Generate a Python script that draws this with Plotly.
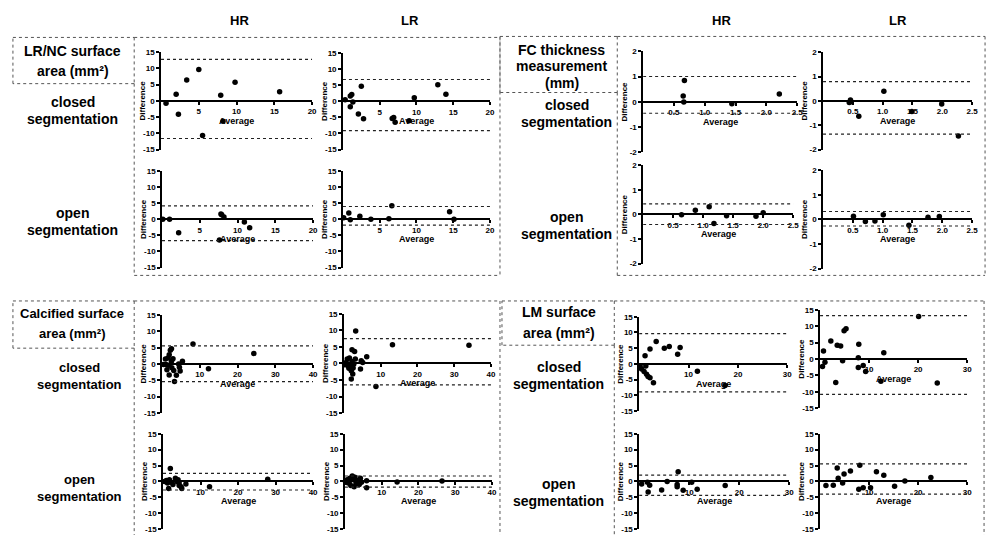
import plotly.graph_objects as go

W, H = 1000, 540
FONT = "Liberation Sans, Arial, sans-serif"

# ---------------- data ----------------
col_headers = ["HR", "LR", "HR", "LR"]
row_labels = ["closed segmentation", "open segmentation"]
x_title = "Average"
y_title = "Difference"

area_yticks = [-15, -10, -5, 0, 5, 10, 15]
fc_yticks = [-2, -1, 0, 1, 2]
lrnc_xticks = [5, 10, 15, 20]
fc_xticks = [0.5, 1.0, 1.5, 2.0, 2.5]
calc_xticks = [10, 20, 30, 40]
lm_xticks = [10, 20, 30]

# LR/NC surface area
lrnc_hr_closed_avg = [0.66, 2.0, 2.3, 3.4, 5.0, 5.5, 7.9, 8.2, 9.8, 15.7]
lrnc_hr_closed_diff = [-0.7, 2.0, -4.1, 6.4, 9.7, -10.7, 1.7, -6.3, 5.7, 2.8]
lrnc_hr_closed_loa = [12.8, -11.6]

lrnc_lr_closed_avg = [0.3, 1.0, 1.0, 1.2, 1.35, 2.1, 2.5, 2.8, 6.7, 6.9, 7.1, 9.0, 9.7, 12.9, 14.0]
lrnc_lr_closed_diff = [0.5, -1.7, 1.7, 2.1, -0.2, -3.9, 4.7, -5.4, -5.3, -5.0, -6.5, -6.0, 1.1, 5.2, 2.2]
lrnc_lr_closed_loa = [6.8, -9.1]

lrnc_hr_open_avg = [0.1, 1.0, 2.2, 7.6, 7.8, 7.9, 8.2, 10.9, 11.6]
lrnc_hr_open_diff = [0.0, 0.0, -4.2, -6.4, 1.7, 1.4, 0.7, -0.8, -2.65]
lrnc_hr_open_loa = [4.2, -6.6]

lrnc_lr_open_avg = [0.1, 0.8, 1.0, 2.3, 3.8, 6.25, 6.65, 14.5, 15.1]
lrnc_lr_open_diff = [0.5, 2.0, -0.1, 1.0, 0.0, 0.2, 4.2, 2.4, 0.0]
lrnc_lr_open_loa = [4.0, -1.8]

# FC thickness
fc_hr_closed_avg = [0.67, 0.65, 0.66, 1.44, 2.21]
fc_hr_closed_diff = [0.84, 0.23, -0.01, -0.08, 0.31]
fc_hr_closed_loa = [1.0, -0.45]

fc_lr_closed_avg = [0.46, 0.47, 0.44, 0.6, 1.02, 1.49, 1.99, 2.27]
fc_lr_closed_diff = [0.03, -0.04, -0.07, -0.63, 0.39, -0.44, -0.13, -1.44]
fc_lr_closed_loa = [0.79, -1.37]

fc_hr_open_avg = [0.64, 0.87, 1.1, 1.18, 1.39, 1.88, 2.0]
fc_hr_open_diff = [-0.01, 0.17, 0.31, -0.37, -0.05, -0.07, 0.07]
fc_hr_open_loa = [0.43, -0.41]

fc_lr_open_avg = [0.51, 0.71, 0.87, 1.01, 1.44, 1.76, 1.95]
fc_lr_open_diff = [0.13, -0.09, -0.07, 0.19, -0.24, 0.09, 0.12]
fc_lr_open_loa = [0.32, -0.27]

# Calcified surface area
calc_hr_closed_avg = [0.4, 0.9, 1.05, 1.3, 1.6, 1.75, 1.9, 1.9, 2.2, 2.5, 2.5, 2.6, 2.9, 3.1, 3.3,
                      3.8, 4.4, 4.6, 4.8, 5.4, 8.2, 12.3, 24.3]
calc_hr_closed_diff = [-0.2, 1.5, -0.2, -1.8, 1.8, -0.4, -3.4, 2.8, 4.2, 4.6, 0.8, -1.2, 1.6, -2.0, -5.4,
                       -3.5, 0.0, -1.0, -2.2, 0.8, 6.1, -1.5, 3.2]
calc_hr_closed_loa = [5.5, -5.4]

calc_lr_closed_avg = [0.2, 0.6, 0.9, 1.1, 1.35, 1.5, 1.8, 2.0, 2.2, 2.4, 2.5, 2.7, 2.0, 2.2, 2.9, 3.1,
                      3.2, 4.7, 5.1, 4.5, 6.2, 8.7, 13.2, 34.0]
calc_lr_closed_diff = [-0.4, 0.3, 1.3, -0.7, -1.5, 1.6, -0.4, -2.2, 0.6, -3.2, -1.4, -0.2, -4.7, 4.1, 3.6, 1.3,
                       9.8, 0.8, 0.3, -1.7, 2.0, -7.0, 5.6, 5.5]
calc_lr_closed_loa = [7.5, -6.5]

calc_hr_open_avg = [0.4, 0.9, 1.2, 1.5, 1.7, 1.95, 2.2, 2.65, 3.3, 3.7, 4.0, 4.3, 4.8, 5.0, 4.3, 6.1, 12.4, 27.9]
calc_hr_open_diff = [0.0, 0.3, -0.5, -2.2, 0.5, 4.05, -0.3, -1.0, 1.0, 0.0, 0.5, -1.3, -1.7, -2.2, -0.5, -0.8, -1.7, 0.7]
calc_hr_open_loa = [2.5, -2.7]

calc_lr_open_avg = [0.2, 0.6, 0.9, 1.2, 1.35, 1.6, 2.0, 2.3, 2.5, 2.7, 3.0, 3.6, 3.9, 4.2, 4.5, 5.9, 5.9, 14.2, 26.4]
calc_lr_open_diff = [-0.3, 0.5, -0.5, 0.0, 1.0, -1.3, 1.7, 0.5, -1.7, 1.3, -0.7, 0.3, -1.0, 1.0, -0.3, 0.2, -2.0, -0.2, 0.1]
calc_lr_open_loa = [1.7, -1.8]

# LM surface area
lm_hr_closed_avg = [0.2, 0.5, 1.0, 1.35, 1.2, 1.5, 1.8, 2.2, 2.2, 2.9, 3.45, 5.1, 6.1, 7.8, 8.3, 11.8, 17.4]
lm_hr_closed_diff = [-0.7, -1.6, -2.4, -0.7, 2.6, -3.3, -4.0, -4.4, 4.7, -6.0, 7.1, 5.0, 5.5, 3.1, 5.2, -2.3, -6.9]
lm_hr_closed_loa = [9.6, -8.9]

lm_lr_closed_avg = [0.7, 0.5, 1.0, 2.2, 3.2, 3.5, 4.2, 4.6, 4.9, 5.3, 7.8, 7.8, 7.9, 8.8, 9.3, 13.0, 12.4, 20.1, 23.9]
lm_lr_closed_diff = [2.4, -2.3, -1.0, 5.5, -7.2, 4.2, 4.0, -0.5, 8.6, 9.2, -2.6, 0.4, 4.5, -2.0, -3.8, 1.9, -6.8, 13.0, -7.3]
lm_lr_closed_loa = [13.2, -10.8]

lm_hr_open_avg = [0.5, 1.65, 1.8, 2.1, 4.5, 5.6, 7.6, 7.6, 7.8, 8.8, 10.5, 11.6, 17.2]
lm_hr_open_diff = [-0.8, -0.3, -3.3, -1.2, -2.7, 0.0, -1.0, -1.7, 3.0, -2.8, -0.3, -2.5, -1.3]
lm_hr_open_loa = [2.0, -4.4]

lm_lr_open_avg = [1.2, 2.7, 3.5, 3.7, 4.6, 4.9, 6.2, 7.9, 8.1, 8.8, 10.3, 11.5, 13.0, 15.2, 17.3, 22.6]
lm_lr_open_diff = [-1.3, -1.2, 4.2, 1.0, -0.5, 2.3, 3.3, -2.5, 5.1, -2.0, -2.0, 3.0, 1.9, -1.5, 0.1, 1.2]
lm_lr_open_loa = [5.5, -4.0]

# ---------------- panel geometry (pixels: y-axis x, x-end, top, bottom) ----------------
panels = [
    dict(avg=lrnc_hr_closed_avg, diff=lrnc_hr_closed_diff, loa=lrnc_hr_closed_loa, xmax=20, xt=lrnc_xticks, yt=area_yticks, px=(162, 314, 49, 148)),
    dict(avg=lrnc_lr_closed_avg, diff=lrnc_lr_closed_diff, loa=lrnc_lr_closed_loa, xmax=20, xt=lrnc_xticks, yt=area_yticks, px=(345, 493, 50, 148)),
    dict(avg=lrnc_hr_open_avg, diff=lrnc_hr_open_diff, loa=lrnc_hr_open_loa, xmax=20, xt=lrnc_xticks, yt=area_yticks, px=(163, 315, 170, 268)),
    dict(avg=lrnc_lr_open_avg, diff=lrnc_lr_open_diff, loa=lrnc_lr_open_loa, xmax=20, xt=lrnc_xticks, yt=area_yticks, px=(345, 493, 170, 268)),
    dict(avg=fc_hr_closed_avg, diff=fc_hr_closed_diff, loa=fc_hr_closed_loa, xmax=2.5, xt=fc_xticks, yt=fc_yticks, px=(647, 802, 48, 151)),
    dict(avg=fc_lr_closed_avg, diff=fc_lr_closed_diff, loa=fc_lr_closed_loa, xmax=2.5, xt=fc_xticks, yt=fc_yticks, px=(828, 978, 49, 148)),
    dict(avg=fc_hr_open_avg, diff=fc_hr_open_diff, loa=fc_hr_open_loa, xmax=2.5, xt=fc_xticks, yt=fc_yticks, px=(647, 798, 164, 264)),
    dict(avg=fc_lr_open_avg, diff=fc_lr_open_diff, loa=fc_lr_open_loa, xmax=2.5, xt=fc_xticks, yt=fc_yticks, px=(828, 978, 169, 269)),
    dict(avg=calc_hr_closed_avg, diff=calc_hr_closed_diff, loa=calc_hr_closed_loa, xmax=40, xt=calc_xticks, yt=area_yticks, px=(163, 315, 316, 416)),
    dict(avg=calc_lr_closed_avg, diff=calc_lr_closed_diff, loa=calc_lr_closed_loa, xmax=40, xt=calc_xticks, yt=area_yticks, px=(346, 494, 315, 416)),
    dict(avg=calc_hr_open_avg, diff=calc_hr_open_diff, loa=calc_hr_open_loa, xmax=40, xt=calc_xticks, yt=area_yticks, px=(164, 315, 437, 534)),
    dict(avg=calc_lr_open_avg, diff=calc_lr_open_diff, loa=calc_lr_open_loa, xmax=40, xt=calc_xticks, yt=area_yticks, px=(347, 495, 437, 534)),
    dict(avg=lm_hr_closed_avg, diff=lm_hr_closed_diff, loa=lm_hr_closed_loa, xmax=30, xt=lm_xticks, yt=area_yticks, px=(643, 792, 318, 414)),
    dict(avg=lm_lr_closed_avg, diff=lm_lr_closed_diff, loa=lm_lr_closed_loa, xmax=30, xt=lm_xticks, yt=area_yticks, px=(825, 973, 311, 411)),
    dict(avg=lm_hr_open_avg, diff=lm_hr_open_diff, loa=lm_hr_open_loa, xmax=30, xt=lm_xticks, yt=area_yticks, px=(643, 794, 437, 534)),
    dict(avg=lm_lr_open_avg, diff=lm_lr_open_diff, loa=lm_lr_open_loa, xmax=30, xt=lm_xticks, yt=area_yticks, px=(825, 973, 437, 534)),
]

fig = go.Figure()
layout = {}
shapes = []
annotations = []


def ptext(txt, x, y, size=14, angle=0):
    annotations.append(dict(text=txt, x=x / W, y=1 - y / H, xref="paper", yref="paper",
                            showarrow=False, xanchor="center", yanchor="middle", textangle=angle,
                            font=dict(family=FONT, size=size, color="black", weight="bold")))


for i, p in enumerate(panels, start=1):
    sfx = "" if i == 1 else str(i)
    xr, yr = "x" + sfx, "y" + sfx
    x0, x1, yt_px, yb_px = p["px"]
    ymax = max(abs(v) for v in p["yt"])
    fig.add_trace(go.Scatter(
        x=p["avg"], y=p["diff"], mode="markers",
        marker=dict(color="black", size=5.5),
        xaxis=xr, yaxis=yr, cliponaxis=False, showlegend=False, hoverinfo="skip"))
    ymid = (yt_px + yb_px) / 2.0
    fc = p["xmax"] < 5
    layout["xaxis" + sfx] = dict(
        domain=[x0 / W, x1 / W], range=[0, p["xmax"]], anchor="free", position=1 - ymid / H,
        showline=True, linecolor="black", linewidth=1.5, ticks="outside", ticklen=3, tickwidth=1.5,
        tickcolor="black", tickvals=p["xt"],
        ticktext=[("%.1f" % v) if fc else ("%g" % v) for v in p["xt"]],
        tickfont=dict(family=FONT, size=8, color="black", weight="bold"),
        showgrid=False, zeroline=False, fixedrange=True)
    layout["yaxis" + sfx] = dict(
        domain=[1 - yb_px / H, 1 - yt_px / H], range=[-ymax, ymax], anchor=xr,
        showline=True, linecolor="black", linewidth=1.5, ticks="outside", ticklen=3, tickwidth=1.5,
        tickcolor="black", tickvals=p["yt"], ticktext=["%d" % v for v in p["yt"]],
        tickfont=dict(family=FONT, size=8, color="black", weight="bold"),
        showgrid=False, zeroline=False, fixedrange=True)
    # axis titles placed as in the reference (inside the panel, Prism style)
    ptext(x_title, (x0 + x1) / 2.0, ymid + 20, 9)
    ptext(y_title, x0 - 18.5, ymid, 8, -90)
    for v in p["loa"]:
        shapes.append(dict(type="line", xref=xr, yref=yr, x0=0, x1=p["xmax"], y0=v, y1=v,
                           line=dict(color="#222", width=1.2, dash="dot")))

# ---------------- frames ----------------
def pline(xa, ya, xb, yb):
    shapes.append(dict(type="line", xref="paper", yref="paper",
                       x0=xa / W, x1=xb / W, y0=1 - ya / H, y1=1 - yb / H,
                       line=dict(color="#555", width=1, dash="dot")))


def prect(xa, ya, xb, yb):
    pline(xa, ya, xb, ya); pline(xb, ya, xb, yb); pline(xb, yb, xa, yb); pline(xa, yb, xa, ya)


# quadrant 1
prect(13, 34, 135, 81)
pline(135, 34, 503, 34); pline(135, 81, 135, 276); pline(135, 276, 503, 276)
# quadrant 2
prect(503, 33, 621, 90)
pline(503, 34, 503, 276); pline(621, 33, 991, 33); pline(621, 90, 621, 276)
pline(991, 33, 991, 276); pline(621, 276, 991, 276)
# quadrant 3
prect(13, 302, 135, 350)
pline(135, 302, 503, 302); pline(135, 350, 135, 540); pline(503, 302, 503, 540)
# quadrant 4
prect(505, 302, 618, 347)
pline(618, 302, 990, 302); pline(618, 347, 618, 540); pline(990, 302, 990, 540)

# ---------------- text ----------------
for txt, x in zip(col_headers, [241, 412, 726, 903]):
    ptext(txt, x, 17, 13)

ptext("LR/NC surface", 73, 48, 14)
ptext("area (mm²)", 73, 68, 14)
ptext("FC thickness", 565, 47, 14)
ptext("measurement", 565, 63, 14)
ptext("(mm)", 565, 80, 14)
ptext("Calcified surface", 72, 315, 13)
ptext("area (mm²)", 72, 335, 13)
ptext("LM surface", 562, 313, 14)
ptext("area (mm²)", 562, 335, 14)

for cx, yc, yo, size in [(73, 100, 213, 14), (570, 103, 217, 14), (80, 370, 484, 13), (562, 369, 488, 14)]:
    first, second = row_labels[0].split(" ")
    ptext(first, cx, yc, size); ptext(second, cx, yc + 17, size)
    first, second = row_labels[1].split(" ")
    ptext(first, cx, yo, size); ptext(second, cx, yo + 17, size)

fig.update_layout(width=W, height=H, margin=dict(l=0, r=0, t=0, b=0),
                  plot_bgcolor="white", paper_bgcolor="white",
                  shapes=shapes, annotations=annotations, **layout)

fig.write_html("out.html", config={"displayModeBar": False},
               post_script="document.body.style.margin='0px';document.body.style.padding='0px';"
                           "document.body.style.overflow='hidden';")
